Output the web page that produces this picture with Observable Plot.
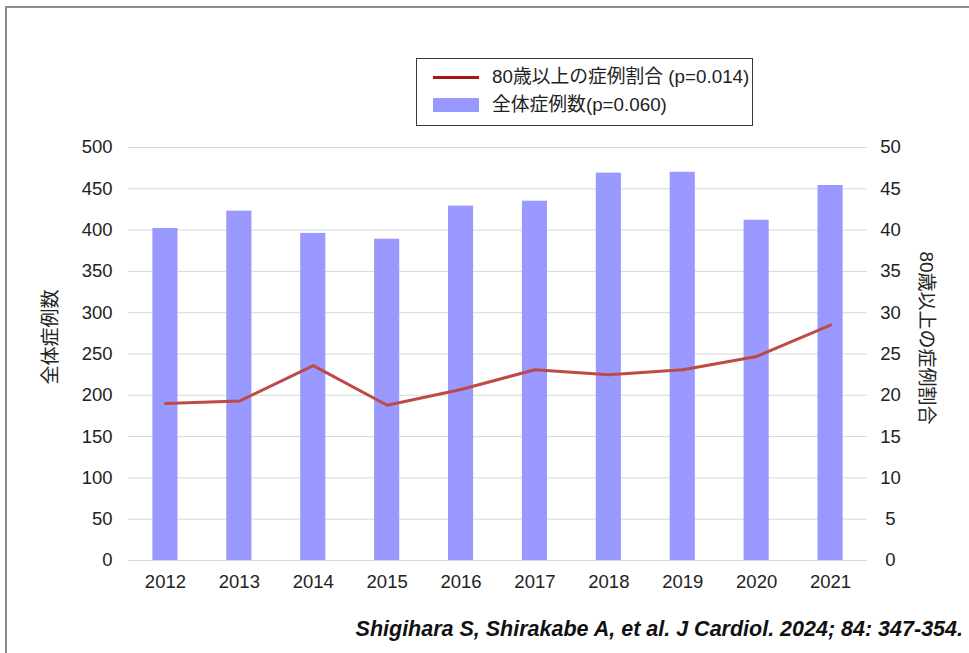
<!DOCTYPE html>
<html>
<head>
<meta charset="utf-8">
<script src="https://cdn.jsdelivr.net/npm/d3@7"></script>
<script src="https://cdn.jsdelivr.net/npm/@observablehq/plot@0.6"></script>
<style>
  body { margin: 0; background: #fff; overflow: hidden; }
  #wrap { position: relative; width: 969px; height: 653px; overflow: hidden; background: #fff;
          font-family: "Liberation Sans", Arial, "Noto Sans CJK JP", sans-serif; color: #222; }
  #frame { position: absolute; left: 5px; top: 6px; width: 1200px; height: 1000px;
           border-left: 2px solid #8c8c8c; border-top: 2px solid #8c8c8c; }
  #chart { position: absolute; left: 0; top: 0; }
  #legend { position: absolute; left: 416px; top: 58px; width: 335px; height: 66px;
            border: 1px solid #3a3a3a; background: #fff; font-size: 18.8px; }
  .lg-item { position: absolute; left: 75px; white-space: nowrap; line-height: 22px; }
  .lg-line { position: absolute; left: 16px; top: 17px; width: 46px; height: 3px; background: #a51616; }
  .lg-rect { position: absolute; left: 16px; top: 39px; width: 46px; height: 14px; background: #9999ff; }
  .ytitle { position: absolute; font-size: 19px; white-space: nowrap; line-height: 22px; }
  #caption { position: absolute; right: 6px; top: 617px; font-weight: bold; font-style: italic;
             font-size: 21.5px; color: #111; white-space: nowrap; font-family: "Liberation Sans", Arial, sans-serif; }
</style>
</head>
<body>
<div id="wrap">
  <div id="frame"></div>
  <div id="chart"></div>
  <div id="legend">
    <div class="lg-line"></div>
    <div class="lg-item" style="top:7px;">80歳以上の症例割合 (p=0.014)</div>
    <div class="lg-rect"></div>
    <div class="lg-item" style="top:35px;">全体症例数(p=0.060)</div>
  </div>
  <div class="ytitle" id="ltitle">全体症例数</div>
  <div class="ytitle" id="rtitle">80歳以上の症例割合</div>
  <div id="caption">Shigihara S, Shirakabe A, et al. J Cardiol. 2024; 84: 347-354.</div>
</div>
<script>
const years = ["2012","2013","2014","2015","2016","2017","2018","2019","2020","2021"];
const totalCases = [402, 423, 396, 389, 429, 435, 469, 470, 412, 454];
const pctOver80 = [19.0, 19.3, 23.6, 18.8, 20.7, 23.1, 22.5, 23.1, 24.7, 28.5];
const leftTicks = [0, 50, 100, 150, 200, 250, 300, 350, 400, 450, 500];
const rightTicks = [0, 5, 10, 15, 20, 25, 30, 35, 40, 45, 50];

const ratio = 10; // right axis (0-50) mapped onto left axis (0-500)
const data = years.map((y, i) => ({year: y, total: totalCases[i], pct: pctOver80[i]}));

const chart = Plot.plot({
  width: 969,
  height: 653,
  marginLeft: 128,
  marginRight: 102,
  marginTop: 147,
  marginBottom: 93,
  style: {fontFamily: '"Liberation Sans", Arial, "Noto Sans CJK JP", sans-serif', fontSize: "18px", color: "#222", background: "transparent"},
  x: {type: "band", domain: years, paddingInner: 0.66, paddingOuter: 0.33, round: false, label: null},
  y: {domain: [0, 500], label: null},
  marks: [
    Plot.gridY(leftTicks, {stroke: "#d9d9d9", strokeOpacity: 1}),
    Plot.barY(data, {x: "year", y: "total", fill: "#9999ff"}),
    Plot.line(data, {x: "year", y: d => d.pct * ratio, stroke: "#be4a48", strokeWidth: 3}),
    Plot.axisY(leftTicks, {anchor: "left", tickSize: 0, tickPadding: 16, fontSize: 18.5, label: null}),
    Plot.axisY(rightTicks.map(t => t * ratio), {anchor: "right", tickSize: 0, tickPadding: 23, textAnchor: "middle", fontSize: 18.5, tickFormat: d => d / ratio, label: null}),
    Plot.axisX({tickSize: 0, tickPadding: 14, fontSize: 18.5, label: null})
  ]
});
document.getElementById("chart").appendChild(chart);

const lt = document.getElementById("ltitle");
lt.style.left = (50 - lt.offsetWidth / 2) + "px";
lt.style.top = (337 - lt.offsetHeight / 2) + "px";
lt.style.transform = "rotate(-90deg)";
const rt = document.getElementById("rtitle");
rt.style.left = (925 - rt.offsetWidth / 2) + "px";
rt.style.top = (338 - rt.offsetHeight / 2) + "px";
rt.style.transform = "rotate(90deg)";
</script>
</body>
</html>
